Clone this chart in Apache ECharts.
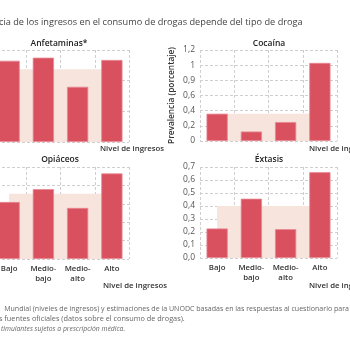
<!DOCTYPE html>
<html>
<head>
<meta charset="utf-8">
<script src="https://cdn.jsdelivr.net/npm/echarts@6/dist/echarts.min.js"></script>
<style>
  html, body { margin: 0; padding: 0; background: #fff; }
  #chart { width: 350px; height: 350px; }
</style>
</head>
<body>
<div id="chart"></div>
<script>
// datos
const categories = ['Bajo', 'Medio-\nbajo', 'Medio-\nalto', 'Alto'];

const anfetaminas = [0.53, 0.55, 0.36, 0.535];
const anfetaminasMedia = 0.475;
const cocaina = [0.36, 0.125, 0.25, 1.03];
const cocainaMedia = 0.36;
const opiaceos = [0.62, 0.76, 0.555, 0.93];
const opiaceosMedia = 0.71;
const extasis = [0.227, 0.456, 0.222, 0.66];
const extasisMedia = 0.4;

const cocainaTicks = ['0', '0,2', '0,4', '0,6', '0,9', '1', '1,2'];
const extasisTicks = ['0,0', '0,1', '0,2', '0,3', '0,4', '0,5', '0,6', '0,7'];

const titulo = 'cia de los ingresos en el consumo de drogas depende del tipo de droga';
const nivel = 'Nivel de ingresos';
const notas = [
    'Mundial (niveles de ingresos) y estimaciones de la UNODC basadas en las respuestas al cuestionario para',
    's fuentes oficiales (datos sobre el consumo de drogas).',
    'timulantes sujetos a prescripción médica.'
];

const FONT = '"Open Sans", "Noto Sans", sans-serif';
const BAR = '#d9505f';
const BAND = '#f6e4dd';
const GRIDLINE = { show: true, lineStyle: { color: '#cfcfcf', type: [3, 2], width: 1 } };

// outerBoundsMode none: el panel izquierdo sale del lienzo como en el recorte
const grids = [
    { left: -8, top: 50, width: 137, height: 92, outerBoundsMode: 'none' },
    { left: 200, top: 50, width: 137, height: 91, outerBoundsMode: 'none' },
    { left: -8, top: 167, width: 137, height: 92, outerBoundsMode: 'none' },
    { left: 200, top: 167, width: 137, height: 91, outerBoundsMode: 'none' }
];

const panelTitles = [
    { text: 'Anfetaminas*', x: 59, y: 44 },
    { text: 'Cocaína', x: 269, y: 44 },
    { text: 'Opiáceos', x: 60, y: 160 },
    { text: 'Éxtasis', x: 269, y: 160 }
];

// etiquetas "Nivel de ingresos" (x = borde izquierdo del texto)
const nivelPos = [
    { x: 100, y: 149 },
    { x: 309, y: 149 },
    { x: 103, y: 286 },
    { x: 309, y: 286 }
];

const makeXAxis = (i, showLabels) => ({
    type: 'category',
    gridIndex: i,
    data: categories,
    boundaryGap: true,
    axisLine: { show: false },
    axisTick: { show: false },
    splitLine: GRIDLINE,
    axisLabel: {
        show: showLabels,
        interval: 0,
        margin: 5,
        color: '#333',
        fontSize: 7.8,
        fontWeight: 600,
        fontFamily: FONT,
        lineHeight: 10
    }
});

const makeYAxis = (i, max, interval, ticks, extra) => Object.assign({
    type: 'value',
    gridIndex: i,
    min: 0,
    max: max,
    interval: interval,
    axisLine: { show: false },
    axisTick: { show: false },
    splitLine: GRIDLINE,
    axisLabel: {
        show: !!ticks,
        margin: 5,
        color: '#555',
        fontSize: 8.5,
        fontFamily: FONT,
        formatter: (v) => ticks ? ticks[Math.round(v / interval)] : ''
    }
}, extra || {});

const makeBars = (i, data) => ({
    type: 'bar',
    xAxisIndex: i,
    yAxisIndex: i,
    data: data,
    barCategoryGap: '38%',
    z: 3,
    itemStyle: { color: BAR, borderColor: '#e98893', borderWidth: 0.8 },
    silent: true
});

const makeBand = (i, avg) => ({
    type: 'line',
    xAxisIndex: i,
    yAxisIndex: i,
    data: categories.map(() => avg),
    symbol: 'none',
    lineStyle: { width: 0 },
    areaStyle: { color: BAND, opacity: 1 },
    z: 1,
    silent: true
});

const chart = echarts.init(document.getElementById('chart'), null, { renderer: 'canvas' });

chart.setOption({
    animation: false,
    backgroundColor: '#fff',
    grid: grids,
    xAxis: [
        makeXAxis(0, false),
        makeXAxis(1, false),
        makeXAxis(2, true),
        makeXAxis(3, true)
    ],
    yAxis: [
        makeYAxis(0, 0.6, 0.2, null),
        makeYAxis(1, 1.2, 0.2, cocainaTicks, {
            name: 'Prevalencia (porcentaje)',
            nameLocation: 'middle',
            nameGap: 24,
            nameTextStyle: { color: '#333', fontSize: 8.3, fontWeight: 600, fontFamily: FONT }
        }),
        makeYAxis(2, 1.0, 0.2, null),
        makeYAxis(3, 0.7, 0.1, extasisTicks)
    ],
    series: [
        makeBand(0, anfetaminasMedia), makeBars(0, anfetaminas),
        makeBand(1, cocainaMedia), makeBars(1, cocaina),
        makeBand(2, opiaceosMedia), makeBars(2, opiaceos),
        makeBand(3, extasisMedia), makeBars(3, extasis)
    ],
    graphic: [
        {
            type: 'text', x: -1, y: 22,
            style: { text: titulo, fill: '#444', fontSize: 9.2, fontFamily: FONT, verticalAlign: 'middle' }
        },
        ...panelTitles.map(p => ({
            type: 'text', x: p.x, y: p.y,
            style: {
                text: p.text, fill: '#222', fontSize: 8.5, fontWeight: 600, fontFamily: FONT,
                align: 'center', verticalAlign: 'middle'
            }
        })),
        ...nivelPos.map(p => ({
            type: 'text', x: p.x, y: p.y,
            style: {
                text: nivel, fill: '#333', fontSize: 7.8, fontWeight: 600, fontFamily: FONT,
                verticalAlign: 'middle'
            }
        })),
        {
            type: 'text', x: 349, y: 309,
            style: { text: notas[0], fill: '#666', fontSize: 7.05, fontFamily: FONT, align: 'right', verticalAlign: 'middle' }
        },
        {
            type: 'text', x: -1, y: 319,
            style: { text: notas[1], fill: '#666', fontSize: 7.3, fontFamily: FONT, verticalAlign: 'middle' }
        },
        {
            type: 'text', x: 1, y: 329,
            style: { text: notas[2], fill: '#666', fontSize: 6.8, fontStyle: 'italic', fontFamily: FONT, verticalAlign: 'middle' }
        }
    ]
});
</script>
</body>
</html>
